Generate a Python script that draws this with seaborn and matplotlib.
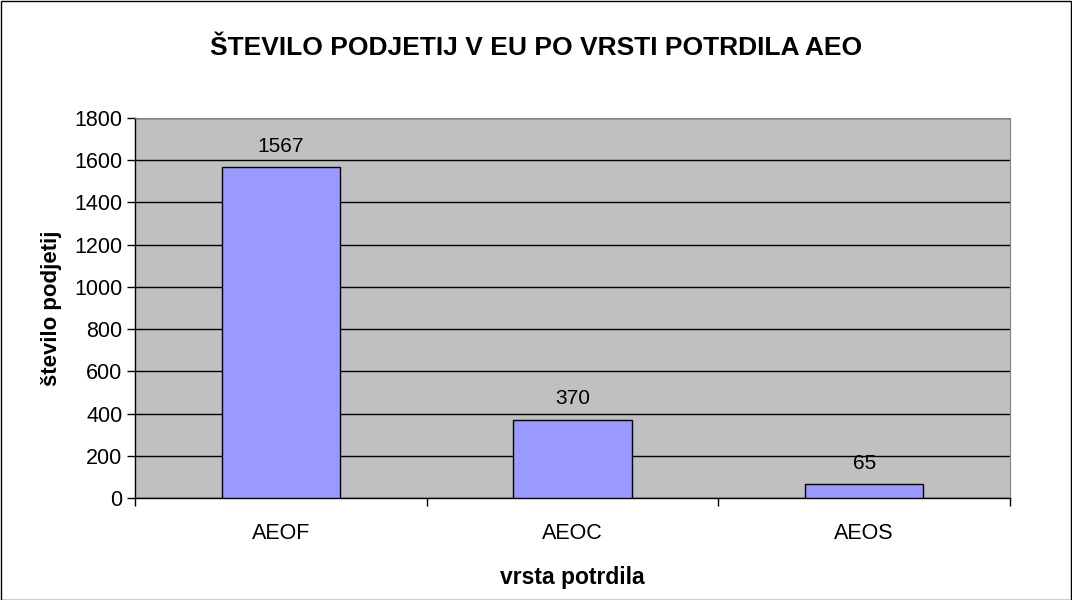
import matplotlib
matplotlib.use("Agg")
import matplotlib.pyplot as plt
import seaborn as sns
import pandas as pd
from matplotlib.patches import Rectangle

categories = ["AEOF", "AEOC", "AEOS"]
values = [1567, 370, 65]
y_ticks = [0, 200, 400, 600, 800, 1000, 1200, 1400, 1600, 1800]

sns.set_style("white")
plt.rcParams['font.family'] = ['Liberation Sans', 'DejaVu Sans']
plt.rcParams['text.color'] = 'black'
plt.rcParams['xtick.color'] = 'black'
plt.rcParams['ytick.color'] = 'black'
plt.rcParams['axes.labelcolor'] = 'black'

df = pd.DataFrame({"vrsta": categories, "stevilo": values})

fig = plt.figure(figsize=(10.72, 6), dpi=100)
ax = fig.add_axes([135/1072, 102/600, 875/1072, 380/600])
ax.set_facecolor("#C0C0C0")

sns.barplot(data=df, x="vrsta", y="stevilo", color="#9999FF", width=0.405,
            edgecolor="black", linewidth=1, saturation=1, ax=ax, zorder=3)

ax.set_ylim(0, 1800)
ax.set_xlim(-0.5, 2.5)
ax.set_yticks(y_ticks)
ax.yaxis.grid(True, color="black", linewidth=1, zorder=1)
ax.set_axisbelow(True)

for i, v in enumerate(values):
    ax.text(i, v + 55, str(v), ha="center", va="bottom", fontsize=15, color="black", zorder=4)

ax.set_xticks([-0.5, 0.5, 1.5, 2.5], minor=True)
ax.tick_params(axis="x", which="major", length=0, labelsize=15.5, pad=18)
ax.tick_params(axis="x", which="minor", length=6, width=1, color="black", direction="out", bottom=True)
ax.tick_params(axis="y", length=6, width=1, color="black", direction="out", left=True, labelsize=15.5, pad=3)

for s in ["top", "right"]:
    ax.spines[s].set_color("#808080")
    ax.spines[s].set_visible(True)
for s in ["left", "bottom"]:
    ax.spines[s].set_color("black")
    ax.spines[s].set_linewidth(1)

ax.set_xlabel("vrsta potrdila", fontsize=16.5, fontweight="bold", labelpad=16)
ax.set_ylabel("število podjetij", fontsize=16, fontweight="bold", labelpad=9)

fig.text(0.5, 1 - 48/600, "ŠTEVILO PODJETIJ V EU PO VRSTI POTRDILA AEO",
         ha="center", va="center", fontsize=19, fontweight="bold")

fig.patches.append(Rectangle((0.5/1072, 0.5/600), 1 - 1.5/1072, 1 - 1.5/600,
                             transform=fig.transFigure, fill=False, edgecolor="black", linewidth=1))

fig.savefig("out.png", dpi=100)
